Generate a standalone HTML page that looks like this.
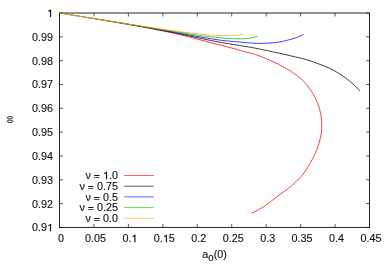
<!DOCTYPE html>
<html><head><meta charset="utf-8"><title>plot</title>
<style>
html,body{margin:0;padding:0;background:#fff;}
body{width:389px;height:273px;overflow:hidden;}
svg{display:block;will-change:transform;}
text{white-space:pre;stroke:#111;stroke-width:0.12px;font-family:"Liberation Sans",sans-serif;font-size:10.0px;fill:#111;}
</style></head><body>
<svg width="389" height="273" viewBox="0 0 389 273">
<rect width="389" height="273" fill="#fff"/>
<g stroke="#262626" stroke-width="1" fill="none">
<path d="M59.00 13.00 H370.00"/>
<path d="M59.00 227.45 H370.00"/>
<path d="M59.50 13.00 V227.45"/>
<path d="M369.50 13.00 V227.45"/>
</g>
<g stroke="#1a1a1a" stroke-width="0.7" fill="none">
<path d="M59.50 227.45 v-3.50 M59.50 13.00 v3.50"/>
<path d="M59.50 13.00 h3.50 M369.50 13.00 h-3.50"/>
<path d="M93.94 227.45 v-3.50 M93.94 13.00 v3.50"/>
<path d="M59.50 36.83 h3.50 M369.50 36.83 h-3.50"/>
<path d="M128.39 227.45 v-3.50 M128.39 13.00 v3.50"/>
<path d="M59.50 60.66 h3.50 M369.50 60.66 h-3.50"/>
<path d="M162.83 227.45 v-3.50 M162.83 13.00 v3.50"/>
<path d="M59.50 84.48 h3.50 M369.50 84.48 h-3.50"/>
<path d="M197.28 227.45 v-3.50 M197.28 13.00 v3.50"/>
<path d="M59.50 108.31 h3.50 M369.50 108.31 h-3.50"/>
<path d="M231.72 227.45 v-3.50 M231.72 13.00 v3.50"/>
<path d="M59.50 132.14 h3.50 M369.50 132.14 h-3.50"/>
<path d="M266.17 227.45 v-3.50 M266.17 13.00 v3.50"/>
<path d="M59.50 155.97 h3.50 M369.50 155.97 h-3.50"/>
<path d="M300.61 227.45 v-3.50 M300.61 13.00 v3.50"/>
<path d="M59.50 179.79 h3.50 M369.50 179.79 h-3.50"/>
<path d="M335.06 227.45 v-3.50 M335.06 13.00 v3.50"/>
<path d="M59.50 203.62 h3.50 M369.50 203.62 h-3.50"/>
<path d="M369.50 227.45 v-3.50 M369.50 13.00 v3.50"/>
<path d="M59.50 227.45 h3.50 M369.50 227.45 h-3.50"/>
</g>
<defs>
<linearGradient id="gred" gradientUnits="userSpaceOnUse" x1="75" y1="0" x2="150" y2="0"><stop offset="0" stop-color="#ff0000" stop-opacity="0.3"/><stop offset="1" stop-color="#ff0000" stop-opacity="1"/></linearGradient>
<linearGradient id="gblack" gradientUnits="userSpaceOnUse" x1="75" y1="0" x2="150" y2="0"><stop offset="0" stop-color="#000000" stop-opacity="0.45"/><stop offset="1" stop-color="#000000" stop-opacity="1"/></linearGradient>
<linearGradient id="gblue" gradientUnits="userSpaceOnUse" x1="75" y1="0" x2="150" y2="0"><stop offset="0" stop-color="#0000ff" stop-opacity="0.3"/><stop offset="1" stop-color="#0000ff" stop-opacity="1"/></linearGradient>
<linearGradient id="ggreen" gradientUnits="userSpaceOnUse" x1="75" y1="0" x2="150" y2="0"><stop offset="0" stop-color="#00c000" stop-opacity="0.3"/><stop offset="1" stop-color="#00c000" stop-opacity="1"/></linearGradient>
</defs>
<path d="M59.50 13.00 C64.58 13.82 81.58 16.58 90.00 17.95 C98.42 19.32 104.17 20.27 110.00 21.25 C115.83 22.22 120.00 22.93 125.00 23.80 C130.00 24.67 135.00 25.55 140.00 26.48 C145.00 27.40 150.00 28.34 155.00 29.33 C160.00 30.33 165.50 31.47 170.00 32.45 C174.50 33.42 177.83 34.18 182.00 35.18 C186.17 36.18 190.68 37.33 195.00 38.45 C199.32 39.57 203.62 40.77 207.90 41.90 C212.18 43.02 216.42 44.10 220.70 45.20 C224.98 46.30 229.55 47.40 233.60 48.50 C237.65 49.60 241.78 50.92 245.00 51.80 C248.22 52.68 249.45 52.70 252.90 53.80 C256.35 54.90 261.42 56.65 265.70 58.40 C269.98 60.15 274.60 62.27 278.60 64.30 C282.60 66.33 285.92 68.13 289.70 70.60 C293.48 73.07 298.07 76.20 301.30 79.10 C304.53 82.00 306.82 84.97 309.10 88.00 C311.38 91.03 313.28 93.85 315.00 97.25 C316.72 100.65 318.33 104.94 319.40 108.40 C320.47 111.86 321.02 115.15 321.40 118.00 C321.77 120.85 321.65 123.07 321.65 125.50 C321.65 127.93 321.80 129.81 321.40 132.60 C321.00 135.39 320.20 138.92 319.25 142.25 C318.30 145.58 317.12 149.26 315.70 152.60 C314.27 155.94 312.67 158.90 310.70 162.30 C308.73 165.70 306.25 169.87 303.90 173.00 C301.55 176.13 299.17 178.55 296.60 181.10 C294.03 183.65 291.70 185.77 288.50 188.30 C285.30 190.83 280.98 193.60 277.40 196.30 C273.82 199.00 270.00 202.35 267.00 204.50 C264.00 206.65 261.97 207.70 259.40 209.20 C256.83 210.70 252.90 212.78 251.60 213.50" fill="none" stroke="url(#gred)" stroke-width="0.76" stroke-linecap="butt" stroke-linejoin="round"/>
<path d="M59.50 13.00 C64.58 13.82 81.58 16.58 90.00 17.95 C98.42 19.32 104.17 20.26 110.00 21.22 C115.83 22.19 120.00 22.88 125.00 23.73 C130.00 24.58 135.00 25.44 140.00 26.32 C145.00 27.20 150.00 28.09 155.00 29.02 C160.00 29.95 165.50 31.01 170.00 31.89 C174.50 32.78 177.83 33.46 182.00 34.34 C186.17 35.23 190.68 36.27 195.00 37.20 C199.32 38.13 203.62 39.03 207.90 39.90 C212.18 40.77 216.42 41.63 220.70 42.40 C224.98 43.17 229.55 43.83 233.60 44.50 C237.65 45.17 241.78 45.87 245.00 46.40 C248.22 46.93 249.45 47.05 252.90 47.70 C256.35 48.35 262.85 49.70 265.70 50.30 C268.55 50.90 267.14 50.68 270.00 51.30 C272.86 51.92 278.57 53.05 282.85 54.00 C287.13 54.95 291.62 56.02 295.70 57.00 C299.77 57.98 303.40 58.72 307.30 59.90 C311.20 61.08 315.60 62.80 319.10 64.10 C322.60 65.40 325.25 66.30 328.30 67.70 C331.35 69.10 334.35 70.67 337.40 72.50 C340.45 74.33 343.85 76.66 346.60 78.70 C349.35 80.74 351.69 82.72 353.90 84.75 C356.11 86.78 358.86 89.88 359.85 90.90" fill="none" stroke="url(#gblack)" stroke-width="0.76" stroke-linecap="butt" stroke-linejoin="round"/>
<path d="M59.50 13.00 C64.58 13.82 81.58 16.58 90.00 17.94 C98.42 19.31 104.17 20.25 110.00 21.20 C115.83 22.16 120.00 22.84 125.00 23.67 C130.00 24.51 135.00 25.34 140.00 26.19 C145.00 27.03 150.00 27.89 155.00 28.76 C160.00 29.63 165.50 30.61 170.00 31.42 C174.50 32.23 177.83 32.85 182.00 33.63 C186.17 34.41 190.68 35.32 195.00 36.10 C199.32 36.88 203.62 37.61 207.90 38.30 C212.18 38.99 216.42 39.72 220.70 40.25 C224.98 40.78 229.55 41.12 233.60 41.50 C237.65 41.88 241.78 42.23 245.00 42.50 C248.22 42.77 250.40 42.95 252.90 43.10 C255.40 43.25 257.15 43.42 260.00 43.40 C262.85 43.38 266.83 43.22 270.00 43.00 C273.17 42.78 276.22 42.53 279.00 42.10 C281.78 41.67 283.92 41.11 286.70 40.40 C289.48 39.69 292.90 38.83 295.70 37.85 C298.50 36.87 302.20 35.06 303.50 34.50" fill="none" stroke="url(#gblue)" stroke-width="0.76" stroke-linecap="butt" stroke-linejoin="round"/>
<path d="M59.50 13.00 C64.58 13.82 81.58 16.58 90.00 17.94 C98.42 19.30 104.17 20.24 110.00 21.18 C115.83 22.12 120.00 22.80 125.00 23.61 C130.00 24.41 135.00 25.22 140.00 26.03 C145.00 26.84 150.00 27.64 155.00 28.45 C160.00 29.25 165.50 30.14 170.00 30.86 C174.50 31.58 177.83 32.12 182.00 32.79 C186.17 33.45 190.68 34.23 195.00 34.85 C199.32 35.47 203.62 36.01 207.90 36.50 C212.18 36.99 217.02 37.46 220.70 37.80 C224.38 38.14 226.73 38.38 230.00 38.55 C233.27 38.72 237.47 38.86 240.30 38.85 C243.13 38.84 244.88 38.73 247.00 38.50 C249.12 38.27 251.22 37.87 253.00 37.50 C254.78 37.13 256.92 36.50 257.70 36.30" fill="none" stroke="url(#ggreen)" stroke-width="0.76" stroke-linecap="butt" stroke-linejoin="round"/>
<path d="M59.50 13.00 C64.58 13.82 81.58 16.58 90.00 17.94 C98.42 19.30 104.17 20.22 110.00 21.15 C115.83 22.09 120.00 22.75 125.00 23.54 C130.00 24.32 135.00 25.11 140.00 25.87 C145.00 26.64 150.00 27.40 155.00 28.14 C160.00 28.88 165.50 29.67 170.00 30.30 C174.50 30.94 177.83 31.39 182.00 31.94 C186.17 32.49 190.68 33.12 195.00 33.60 C199.32 34.08 203.62 34.52 207.90 34.85 C212.18 35.18 217.02 35.45 220.70 35.60 C224.38 35.75 227.42 35.78 230.00 35.75 C232.58 35.72 234.53 35.56 236.20 35.40 C237.87 35.24 238.90 34.99 240.00 34.80 C241.10 34.61 242.33 34.34 242.80 34.25" fill="none" stroke="#ffa500" stroke-width="0.76" stroke-linecap="butt" stroke-linejoin="round"/>
<g transform="translate(53.00 16.90) scale(1.080 1) translate(-5.560 0)"><path d="M3.750 0.000L2.800 0.000L2.800 -6.000Q2.000 -5.550 1.100 -5.300L1.100 -6.100Q2.400 -6.500 3.050 -7.350L3.750 -7.350Z" fill="#111" stroke="#111" stroke-width="0.12"/></g>
<g transform="translate(53.00 40.73) scale(1.080 1) translate(-19.463 0)"><text x="0.000" y="0" font-size="10.00px">0.99</text></g>
<g transform="translate(53.00 64.56) scale(1.080 1) translate(-19.463 0)"><text x="0.000" y="0" font-size="10.00px">0.98</text></g>
<g transform="translate(53.00 88.38) scale(1.080 1) translate(-19.463 0)"><text x="0.000" y="0" font-size="10.00px">0.97</text></g>
<g transform="translate(53.00 112.21) scale(1.080 1) translate(-19.463 0)"><text x="0.000" y="0" font-size="10.00px">0.96</text></g>
<g transform="translate(53.00 136.04) scale(1.080 1) translate(-19.463 0)"><text x="0.000" y="0" font-size="10.00px">0.95</text></g>
<g transform="translate(53.00 159.87) scale(1.080 1) translate(-19.463 0)"><text x="0.000" y="0" font-size="10.00px">0.94</text></g>
<g transform="translate(53.00 183.69) scale(1.080 1) translate(-19.463 0)"><text x="0.000" y="0" font-size="10.00px">0.93</text></g>
<g transform="translate(53.00 207.52) scale(1.080 1) translate(-19.463 0)"><text x="0.000" y="0" font-size="10.00px">0.92</text></g>
<g transform="translate(53.00 231.35) scale(1.080 1) translate(-19.461 0)"><text x="0.000" y="0" font-size="10.00px">0.9</text><path d="M17.651 0.000L16.701 0.000L16.701 -6.000Q15.901 -5.550 15.001 -5.300L15.001 -6.100Q16.301 -6.500 16.951 -7.350L17.651 -7.350Z" fill="#111" stroke="#111" stroke-width="0.12"/></g>
<g transform="translate(61.00 242.20) scale(1.080 1) translate(-2.781 0)"><text x="0.000" y="0" font-size="10.00px">0</text></g>
<g transform="translate(95.44 242.20) scale(1.080 1) translate(-9.731 0)"><text x="0.000" y="0" font-size="10.00px">0.05</text></g>
<g transform="translate(129.89 242.20) scale(1.080 1) translate(-6.950 0)"><text x="0.000" y="0" font-size="10.00px">0.</text><path d="M12.090 0.000L11.140 0.000L11.140 -6.000Q10.340 -5.550 9.440 -5.300L9.440 -6.100Q10.740 -6.500 11.390 -7.350L12.090 -7.350Z" fill="#111" stroke="#111" stroke-width="0.12"/></g>
<g transform="translate(164.33 242.20) scale(1.080 1) translate(-9.731 0)"><text x="0.000" y="0" font-size="10.00px">0.</text><path d="M12.090 0.000L11.140 0.000L11.140 -6.000Q10.340 -5.550 9.440 -5.300L9.440 -6.100Q10.740 -6.500 11.390 -7.350L12.090 -7.350Z" fill="#111" stroke="#111" stroke-width="0.12"/><text x="13.900" y="0" font-size="10.00px">5</text></g>
<g transform="translate(198.78 242.20) scale(1.080 1) translate(-6.951 0)"><text x="0.000" y="0" font-size="10.00px">0.2</text></g>
<g transform="translate(233.22 242.20) scale(1.080 1) translate(-9.731 0)"><text x="0.000" y="0" font-size="10.00px">0.25</text></g>
<g transform="translate(267.67 242.20) scale(1.080 1) translate(-6.951 0)"><text x="0.000" y="0" font-size="10.00px">0.3</text></g>
<g transform="translate(302.11 242.20) scale(1.080 1) translate(-9.731 0)"><text x="0.000" y="0" font-size="10.00px">0.35</text></g>
<g transform="translate(336.56 242.20) scale(1.080 1) translate(-6.951 0)"><text x="0.000" y="0" font-size="10.00px">0.4</text></g>
<g transform="translate(371.00 242.20) scale(1.080 1) translate(-9.731 0)"><text x="0.000" y="0" font-size="10.00px">0.45</text></g>
<g transform="translate(10.00 119.55) rotate(-90)"><path d="M-0.9 -1.6C-0.95 -2.5 -1.3 -2.8 -1.8 -2.8C-2.5 -2.8 -2.9 -1.6 -2.9 0C-2.9 1.6 -2.5 2.8 -1.8 2.8C-1.2 2.8 -0.85 2.0 -0.8 0.6C-0.75 -0.4 -0.4 -1.0 0 -1.0C0.4 -1.0 0.75 -0.4 0.8 0.6C0.85 2.0 1.2 2.8 1.8 2.8C2.5 2.8 2.9 1.6 2.9 0C2.9 -1.6 2.5 -2.8 1.8 -2.8C1.3 -2.8 0.95 -2.5 0.9 -1.6" fill="none" stroke="#111" stroke-width="0.9" stroke-linecap="round" stroke-linejoin="round"/></g>
<text transform="translate(214.60 257.50) scale(1.080 1)" text-anchor="middle">a<tspan font-size="9px" dy="3.0">0</tspan><tspan dy="-3.0">(0)</tspan></text>
<g transform="translate(118.00 179.20) scale(1.080 1) translate(-30.048 0)"><text x="0.000" y="0" font-family="Liberation Serif" font-size="12.50px">ν</text><text x="4.752" y="0" font-size="10.00px"> </text><path d="M8.000 -4.080h4.900v0.76h-4.900zM8.000 -2.180h4.900v0.76h-4.900z" fill="#111"/><text x="13.370" y="0" font-size="10.00px"> </text><path d="M19.899 0.000L18.949 0.000L18.949 -6.000Q18.149 -5.550 17.249 -5.300L17.249 -6.100Q18.549 -6.500 19.199 -7.350L19.899 -7.350Z" fill="#111" stroke="#111" stroke-width="0.12"/><text x="21.709" y="0" font-size="10.00px">.0</text></g>
<path d="M124.2 175.50 H153.9" stroke="#ff0000" stroke-width="0.64" fill="none"/>
<g transform="translate(118.00 189.90) scale(1.080 1) translate(-35.611 0)"><text x="0.000" y="0" font-family="Liberation Serif" font-size="12.50px">ν</text><text x="4.752" y="0" font-size="10.00px"> </text><path d="M8.000 -3.780h4.900v0.76h-4.900zM8.000 -1.880h4.900v0.76h-4.900z" fill="#111"/><text x="13.370" y="0" font-size="10.00px"> 0.75</text></g>
<path d="M124.2 186.20 H153.9" stroke="#000000" stroke-width="0.64" fill="none"/>
<g transform="translate(118.00 200.60) scale(1.080 1) translate(-30.050 0)"><text x="0.000" y="0" font-family="Liberation Serif" font-size="12.50px">ν</text><text x="4.752" y="0" font-size="10.00px"> </text><path d="M8.000 -3.480h4.900v0.76h-4.900zM8.000 -1.580h4.900v0.76h-4.900z" fill="#111"/><text x="13.370" y="0" font-size="10.00px"> 0.5</text></g>
<path d="M124.2 196.90 H153.9" stroke="#0000ff" stroke-width="0.64" fill="none"/>
<g transform="translate(118.00 211.30) scale(1.080 1) translate(-35.611 0)"><text x="0.000" y="0" font-family="Liberation Serif" font-size="12.50px">ν</text><text x="4.752" y="0" font-size="10.00px"> </text><path d="M8.000 -4.180h4.900v0.76h-4.900zM8.000 -2.280h4.900v0.76h-4.900z" fill="#111"/><text x="13.370" y="0" font-size="10.00px"> 0.25</text></g>
<path d="M124.2 207.60 H153.9" stroke="#00c000" stroke-width="0.64" fill="none"/>
<g transform="translate(118.00 222.00) scale(1.080 1) translate(-30.050 0)"><text x="0.000" y="0" font-family="Liberation Serif" font-size="12.50px">ν</text><text x="4.752" y="0" font-size="10.00px"> </text><path d="M8.000 -3.880h4.900v0.76h-4.900zM8.000 -1.980h4.900v0.76h-4.900z" fill="#111"/><text x="13.370" y="0" font-size="10.00px"> 0.0</text></g>
<path d="M124.2 218.30 H153.9" stroke="#ffa500" stroke-width="0.64" fill="none"/>
</svg></body></html>
